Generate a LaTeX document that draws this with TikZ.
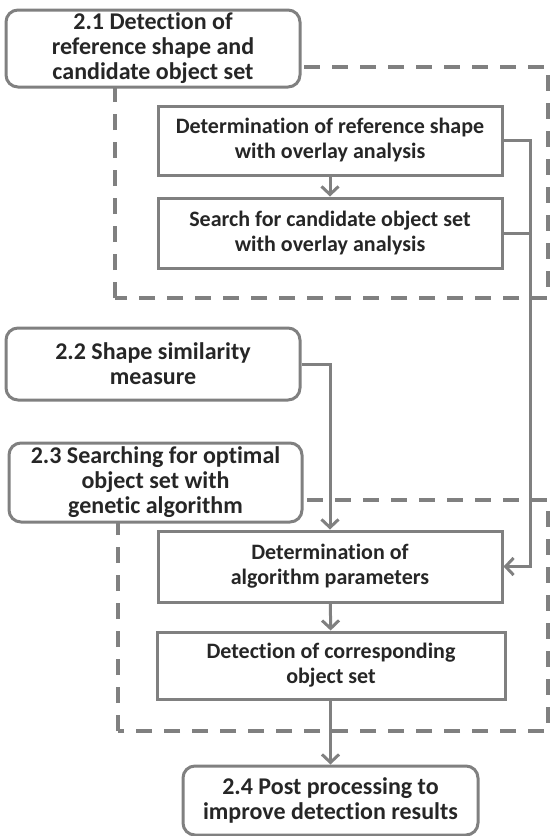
\documentclass[tikz,border=0pt]{standalone}
\usepackage{fontspec}
\setmainfont{Carlito}[Ligatures={NoCommon,NoRare}]
\usetikzlibrary{arrows.meta}
\definecolor{lc}{HTML}{808080}
\definecolor{tc}{HTML}{262626}
\begin{document}
\begin{tikzpicture}[x=1pt,y=-1pt,
  every node/.style={font=\bfseries, text=tc, align=center, inner sep=0pt},
  titlebox/.style={draw=lc, line width=3pt, rounded corners=12pt, fill=white, font=\fontsize{24}{25}\selectfont\bfseries},
  stepbox/.style={draw=lc, line width=3pt, fill=white, font=\fontsize{22}{25}\selectfont\bfseries},
  grp/.style={draw=lc, line width=3.5pt, dash pattern=on 16pt off 12pt},
  conn/.style={draw=lc, line width=3pt},
  arr/.style={conn, -{Straight Barb[length=8pt,width=17pt,line width=3pt]}}
]
\useasboundingbox (0,0) rectangle (550,836);
% groups
\draw[grp] (115,298) -- (115,67) -- (548,67) -- (548,298) -- cycle;
\draw[grp] (118,731) -- (118,500) -- (548,500) -- (548,731) -- cycle;
% boxes
\node[titlebox, minimum width=294pt, minimum height=77pt] (t1) at (153,48.5) {2.1 Detection of\\reference shape and\\candidate object set};
\node[stepbox, minimum width=344pt, minimum height=69pt] (a) at (330,140.5) {Determination of reference shape\\with overlay analysis};
\node[stepbox, minimum width=344pt, minimum height=70pt] (b) at (330,233) {Search for candidate object set\\with overlay analysis};
\node[titlebox, minimum width=294pt, minimum height=72pt] (t2) at (153,364) {2.2 Shape similarity\\measure};
\node[titlebox, minimum width=293pt, minimum height=79pt] (t3) at (155.5,482.5) {2.3 Searching for optimal\\object set with\\genetic algorithm};
\node[stepbox, minimum width=344pt, minimum height=71pt] (p) at (330,566.5) {Determination of\\algorithm parameters};
\node[stepbox, minimum width=348pt, minimum height=67pt] (d) at (331,665.5) {Detection of corresponding\\object set};
\node[titlebox, minimum width=295pt, minimum height=69pt] (t4) at (330.5,800.5) {2.4 Post processing to\\improve detection results};
% connectors
\coordinate (rx) at (530,0);
\draw[arr] (a) -- (b);
\draw[conn] (b.east) -- (b.east -| rx);
\draw[arr] (a.east) -- (a.east -| rx) -- (rx |- p.east) -- (p.east);
\draw[arr] (t2.east) -- (t2.east -| p.north) -- (p.north);
\draw[arr] (p) -- (d);
\draw[arr] (d.south -| t4.north) -- (t4.north);
\end{tikzpicture}
\end{document}
